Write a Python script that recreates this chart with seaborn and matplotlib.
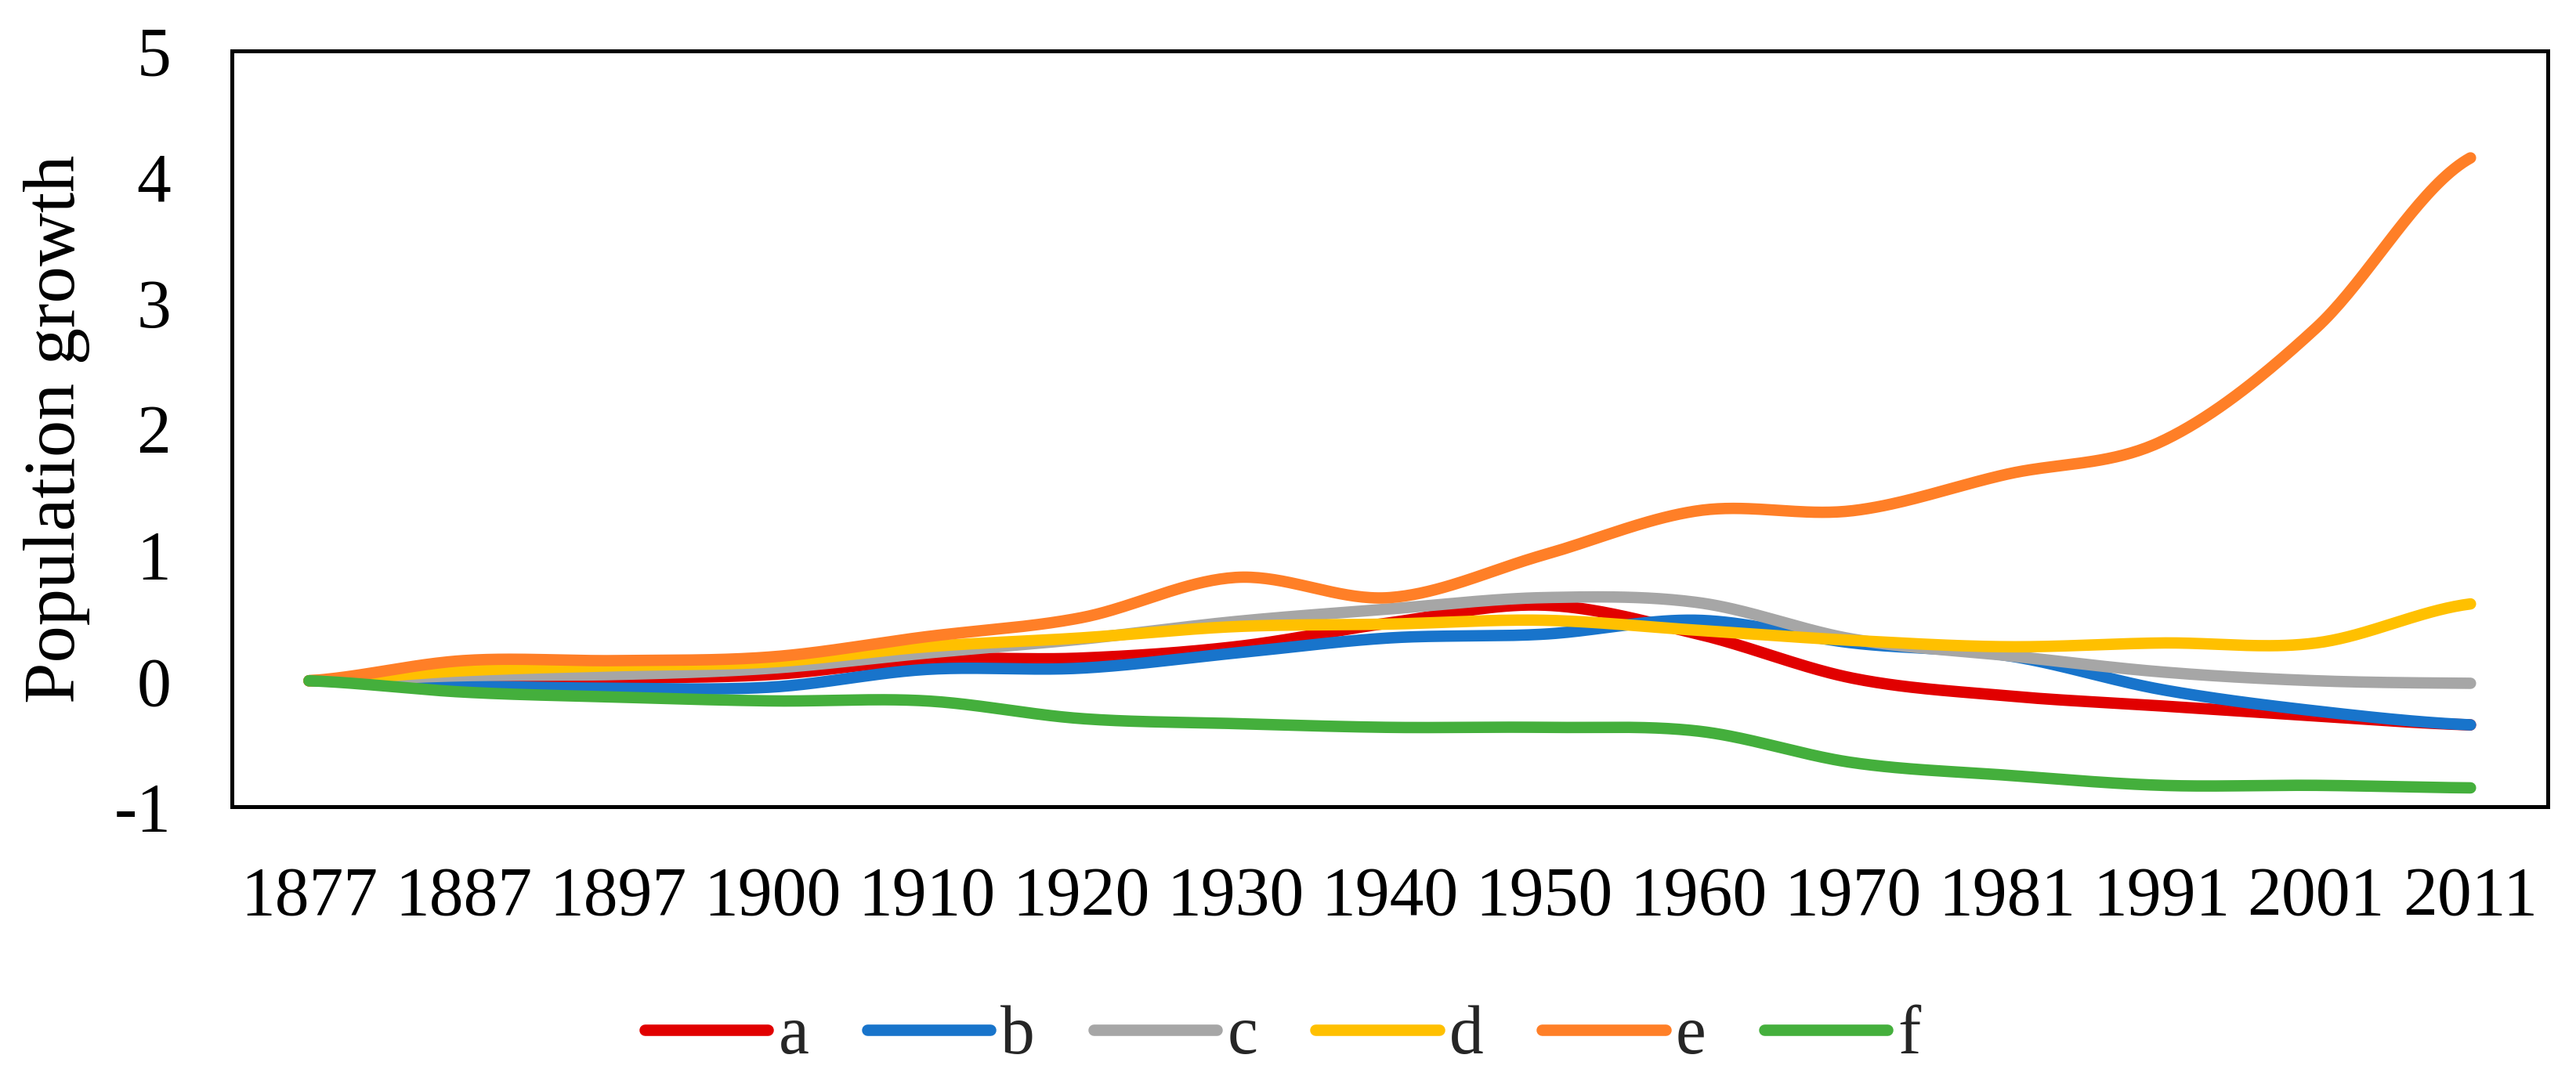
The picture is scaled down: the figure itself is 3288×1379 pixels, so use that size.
import numpy as np
import pandas as pd
import matplotlib
matplotlib.use("Agg")
import matplotlib.pyplot as plt
import seaborn as sns
from matplotlib.lines import Line2D

years = ["1877", "1887", "1897", "1900", "1910", "1920", "1930", "1940",
         "1950", "1960", "1970", "1981", "1991", "2001", "2011"]
series_names = ["a", "b", "c", "d", "e", "f"]
a_vals = [0.0, 0.0, 0.02, 0.05, 0.17, 0.18, 0.27, 0.46, 0.60, 0.37, 0.02, -0.12, -0.20, -0.28, -0.35]
b_vals = [0.0, -0.04, -0.06, -0.05, 0.09, 0.10, 0.22, 0.34, 0.37, 0.48, 0.30, 0.20, -0.07, -0.24, -0.35]
c_vals = [0.0, 0.04, 0.05, 0.10, 0.22, 0.33, 0.47, 0.57, 0.66, 0.62, 0.33, 0.20, 0.07, 0.0, -0.02]
d_vals = [0.0, 0.08, 0.12, 0.15, 0.27, 0.34, 0.43, 0.45, 0.48, 0.40, 0.32, 0.27, 0.30, 0.30, 0.61]
e_vals = [0.0, 0.16, 0.16, 0.19, 0.35, 0.50, 0.82, 0.66, 1.00, 1.35, 1.35, 1.64, 1.90, 2.80, 4.15]
f_vals = [0.0, -0.09, -0.13, -0.16, -0.16, -0.30, -0.34, -0.37, -0.37, -0.40, -0.65, -0.75, -0.83, -0.83, -0.85]
colors = ["#E10000", "#1874CB", "#A6A6A6", "#FFC000", "#FF7F27", "#44AF3C"]


def smooth(vals, n=40):
    """Catmull-Rom rendering of the series (like Excel's 'smoothed line')."""
    y = np.asarray(vals, dtype=float)
    xs_out, ys_out = [], []
    m = len(y)
    for i in range(m - 1):
        p0 = y[i - 1] if i > 0 else y[i]
        p1, p2 = y[i], y[i + 1]
        p3 = y[i + 2] if i + 2 < m else y[i + 1]
        t = np.linspace(0, 1, n, endpoint=(i == m - 2))
        yy = 0.5 * ((2 * p1) + (-p0 + p2) * t + (2 * p0 - 5 * p1 + 4 * p2 - p3) * t ** 2
                    + (-p0 + 3 * p1 - 3 * p2 + p3) * t ** 3)
        xs_out.append(i + t)
        ys_out.append(yy)
    return np.concatenate(xs_out), np.concatenate(ys_out)


all_vals = [a_vals, b_vals, c_vals, d_vals, e_vals, f_vals]
frames = []
for name, vals in zip(series_names, all_vals):
    xx, yy = smooth(vals)
    frames.append(pd.DataFrame({"x": xx, "y": yy, "series": name}))
df = pd.concat(frames, ignore_index=True)

sns.set_style("white")
plt.rcParams["font.family"] = ["Liberation Serif", "DejaVu Serif"]

fig = plt.figure(figsize=(32.88, 13.79), dpi=100)
ax = fig.add_axes([0.090, 0.253, 0.899, 0.700])

sns.lineplot(data=df, x="x", y="y", hue="series", hue_order=series_names,
             palette=colors, linewidth=10.5, sort=False, estimator=None,
             ax=ax, legend=False)
for line in ax.get_lines():
    line.set_solid_capstyle("round")

ax.set_xlim(-0.5, len(years) - 0.5)
ax.set_ylim(-1, 5)
ax.set_xticks(range(len(years)))
ax.set_xticklabels(years)
ax.set_yticks(range(-1, 6))
ax.set_yticklabels(["-1", "0", "1", "2", "3", "4", "5"])
ax.tick_params(axis="both", length=0, labelsize=63, colors="black")
ax.tick_params(axis="y", pad=56)
ax.tick_params(axis="x", pad=54)
ax.set_xlabel("")
ax.set_ylabel("Population growth", fontsize=68, labelpad=22, color="black")
for sp in ax.spines.values():
    sp.set_visible(True)
    sp.set_color("black")
    sp.set_linewidth(3.6)

handles = [Line2D([0], [0], color=c, lw=10.5, solid_capstyle="round") for c in colors]
fig.legend(handles, series_names, loc="center", bbox_to_anchor=(0.498, 0.040),
           ncol=6, frameon=False, fontsize=63, handlelength=1.8,
           handletextpad=0.15, columnspacing=0.85)

fig.savefig("out.png", dpi=100, facecolor="white")
